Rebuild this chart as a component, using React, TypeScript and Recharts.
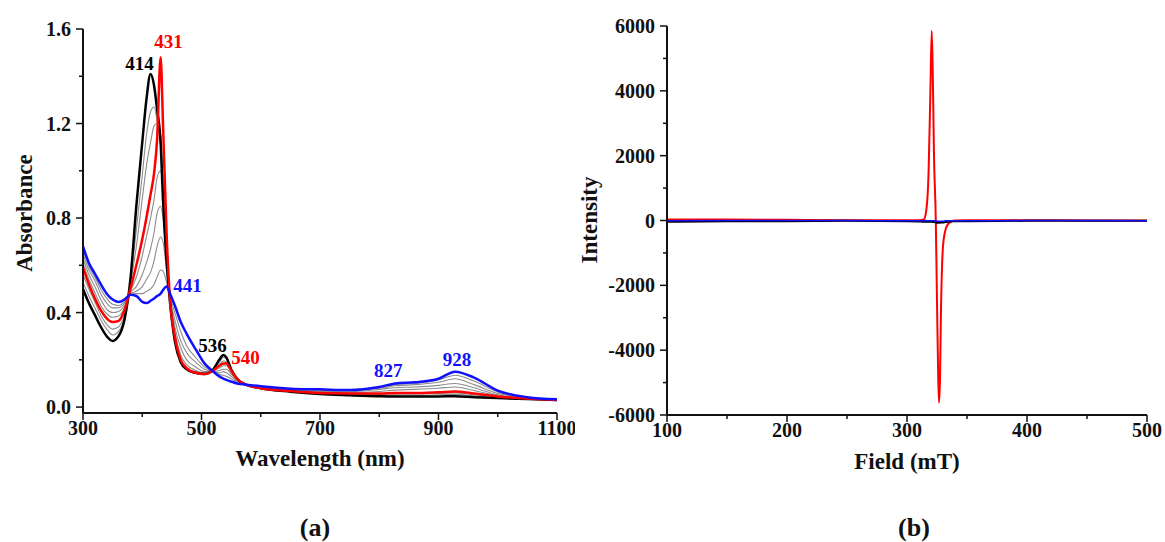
import React from "react"
import { LineChart, Line, XAxis, YAxis, ReferenceDot } from "recharts"

// UV-vis (a)
const wavelengths = [300, 310, 320, 330, 340, 350, 360, 370, 380, 390, 400, 407, 414, 420, 425, 431, 435, 441, 447, 455, 465, 475, 490, 505, 520, 530, 537, 542, 550, 560, 575, 600, 650, 700, 750, 800, 827, 860, 900, 928, 960, 1000, 1050, 1100]
const absBlack = [0.5, 0.44, 0.39, 0.34, 0.3, 0.28, 0.3, 0.37, 0.54, 0.85, 1.12, 1.3, 1.41, 1.36, 1.26, 1.12, 0.88, 0.62, 0.44, 0.28, 0.19, 0.16, 0.145, 0.14, 0.16, 0.2, 0.22, 0.21, 0.16, 0.12, 0.095, 0.08, 0.065, 0.055, 0.05, 0.046, 0.045, 0.045, 0.045, 0.046, 0.042, 0.038, 0.034, 0.03]
const absGray1 = [0.53, 0.47, 0.42, 0.37, 0.33, 0.305, 0.32, 0.38, 0.53, 0.75, 0.98, 1.15, 1.25, 1.27, 1.21, 1.1, 0.92, 0.64, 0.45, 0.29, 0.195, 0.16, 0.145, 0.14, 0.158, 0.19, 0.21, 0.205, 0.16, 0.12, 0.095, 0.08, 0.066, 0.057, 0.052, 0.05, 0.05, 0.05, 0.052, 0.054, 0.048, 0.04, 0.035, 0.03]
const absGray2 = [0.56, 0.5, 0.445, 0.39, 0.35, 0.33, 0.34, 0.39, 0.52, 0.68, 0.88, 1.02, 1.12, 1.19, 1.2, 1.15, 0.98, 0.66, 0.45, 0.29, 0.2, 0.165, 0.145, 0.14, 0.157, 0.18, 0.195, 0.19, 0.158, 0.12, 0.095, 0.08, 0.067, 0.058, 0.055, 0.054, 0.055, 0.056, 0.058, 0.06, 0.052, 0.042, 0.035, 0.03]
const absRed = [0.59, 0.52, 0.46, 0.41, 0.375, 0.36, 0.365, 0.41, 0.5, 0.6, 0.71, 0.8, 0.9, 0.99, 1.13, 1.48, 1.2, 0.74, 0.45, 0.3, 0.2, 0.165, 0.145, 0.14, 0.155, 0.175, 0.185, 0.185, 0.155, 0.12, 0.095, 0.08, 0.068, 0.06, 0.058, 0.058, 0.06, 0.06, 0.063, 0.066, 0.058, 0.045, 0.036, 0.03]
const absGray3 = [0.61, 0.54, 0.485, 0.43, 0.395, 0.38, 0.385, 0.42, 0.49, 0.55, 0.64, 0.72, 0.8, 0.88, 0.97, 1.0, 0.92, 0.68, 0.46, 0.32, 0.22, 0.18, 0.155, 0.145, 0.155, 0.165, 0.175, 0.175, 0.15, 0.118, 0.095, 0.082, 0.07, 0.063, 0.062, 0.066, 0.072, 0.075, 0.08, 0.085, 0.07, 0.048, 0.037, 0.031]
const absGray4 = [0.63, 0.56, 0.51, 0.455, 0.415, 0.4, 0.405, 0.43, 0.485, 0.51, 0.56, 0.61, 0.67, 0.74, 0.82, 0.85, 0.8, 0.62, 0.46, 0.34, 0.25, 0.2, 0.17, 0.15, 0.15, 0.155, 0.16, 0.16, 0.14, 0.115, 0.094, 0.083, 0.072, 0.066, 0.066, 0.075, 0.082, 0.085, 0.092, 0.1, 0.082, 0.052, 0.038, 0.031]
const absGray5 = [0.65, 0.58, 0.535, 0.48, 0.44, 0.42, 0.42, 0.44, 0.48, 0.49, 0.51, 0.54, 0.57, 0.62, 0.68, 0.72, 0.7, 0.58, 0.46, 0.37, 0.28, 0.23, 0.19, 0.16, 0.15, 0.145, 0.15, 0.145, 0.13, 0.11, 0.093, 0.084, 0.074, 0.07, 0.068, 0.08, 0.09, 0.095, 0.105, 0.12, 0.095, 0.058, 0.039, 0.032]
const absGray6 = [0.665, 0.595, 0.55, 0.5, 0.46, 0.435, 0.43, 0.445, 0.478, 0.48, 0.48, 0.49, 0.5, 0.52, 0.55, 0.58, 0.575, 0.53, 0.47, 0.4, 0.32, 0.26, 0.21, 0.17, 0.15, 0.138, 0.135, 0.13, 0.12, 0.105, 0.094, 0.086, 0.076, 0.072, 0.07, 0.083, 0.095, 0.1, 0.115, 0.135, 0.11, 0.064, 0.04, 0.032]
const absBlue = [0.68, 0.61, 0.565, 0.52, 0.48, 0.455, 0.445, 0.455, 0.475, 0.47, 0.445, 0.44, 0.45, 0.46, 0.47, 0.48, 0.495, 0.51, 0.48, 0.43, 0.36, 0.31, 0.245, 0.185, 0.15, 0.13, 0.12, 0.115, 0.108, 0.1, 0.095, 0.088, 0.078, 0.075, 0.072, 0.085, 0.1, 0.105, 0.12, 0.15, 0.125, 0.07, 0.042, 0.033]

const uvXTicks = [300, 400, 500, 600, 700, 800, 900, 1000, 1100]
const uvXMajor = [300, 500, 700, 900, 1100]
const uvYTicks = [0, 0.2, 0.4, 0.6, 0.8, 1.0, 1.2, 1.4, 1.6]
const uvYMajor = [0, 0.4, 0.8, 1.2, 1.6]

// peak labels: [wavelength, absorbance, text, color, dx, dy]
const uvPeaks: [number, number, string, string, number, number][] = [
  [414, 1.41, "414", "#000000", -11, -4],
  [431, 1.48, "431", "#ff0000", 8, -9],
  [441, 0.51, "441", "#1010ff", 21, 5],
  [537, 0.22, "536", "#000000", -11, -3],
  [542, 0.185, "540", "#ff0000", 19, 1],
  [827, 0.1, "827", "#1010ff", -7, -6],
  [928, 0.15, "928", "#1010ff", 2, -6],
]

// EPR (b)
const fieldMT = [100, 150, 200, 250, 300, 310, 314, 316, 318, 319.5, 320.6, 321.5, 322.5, 324, 325, 326, 326.7, 327.5, 328.3, 330, 332, 334, 337, 340, 350, 400, 450, 500]
const eprRed = [30, 30, 20, 10, 10, 5, 30, 300, 1500, 4000, 5850, 4500, 2000, 0, -2500, -4800, -5620, -4900, -2840, -800, -300, -120, -30, 0, 5, 10, 0, 0]
const eprBlack = [-40, -20, -20, -10, -20, -30, -40, -40, -40, -40, -40, -50, -50, -60, -70, -70, -70, -70, -60, -60, -50, -40, -30, -20, -20, -10, -10, -10]
const eprBlue = [-10, 0, 0, 0, -10, -10, -10, -10, -10, -10, -10, -10, -10, -10, -20, -20, -20, -20, -20, -20, -10, -10, -10, -10, -10, 0, 0, -10]

const eprXTicks = [100, 150, 200, 250, 300, 350, 400, 450, 500]
const eprXMajor = [100, 200, 300, 400, 500]
const eprYTicks = [-6000, -5000, -4000, -3000, -2000, -1000, 0, 1000, 2000, 3000, 4000, 5000, 6000]
const eprYMajor = [-6000, -4000, -2000, 0, 2000, 4000, 6000]

const uvRows = wavelengths.map((w, i) => ({
  w,
  black: absBlack[i],
  g1: absGray1[i],
  g2: absGray2[i],
  red: absRed[i],
  g3: absGray3[i],
  g4: absGray4[i],
  g5: absGray5[i],
  g6: absGray6[i],
  blue: absBlue[i],
}))

const eprRows = fieldMT.map((f, i) => ({ f, red: eprRed[i], black: eprBlack[i], blue: eprBlue[i] }))

const SERIF = '"Liberation Serif", "Times New Roman", serif'

function makeXTick(majors: number[], fmt: (v: number) => string) {
  return (props: any) => {
    const { x, y, payload } = props
    const major = majors.includes(payload.value)
    return (
      <g>
        <line x1={x} y1={y} x2={x} y2={y + (major ? 7 : 4)} stroke="#111" strokeWidth={1.5} />
        {major && (
          <text x={x} y={y + 22} textAnchor="middle" fontFamily={SERIF} fontWeight="bold" fontSize={20} fill="#111">
            {fmt(payload.value)}
          </text>
        )}
      </g>
    )
  }
}

function makeYTick(majors: number[], fmt: (v: number) => string) {
  return (props: any) => {
    const { x, y, payload } = props
    const major = majors.some((m) => Math.abs(m - payload.value) < 1e-9)
    return (
      <g>
        <line x1={x} y1={y} x2={x - (major ? 7 : 4)} y2={y} stroke="#111" strokeWidth={1.5} />
        {major && (
          <text x={x - 12} y={y + 7} textAnchor="end" fontFamily={SERIF} fontWeight="bold" fontSize={20} fill="#111">
            {fmt(payload.value)}
          </text>
        )}
      </g>
    )
  }
}

const PeakText = ({ viewBox, text, color, dx, dy }: any) => {
  const cx = viewBox.x + (viewBox.width || 0) / 2
  const cy = viewBox.y + (viewBox.height || 0) / 2
  return (
    <text x={cx + dx} y={cy + dy} textAnchor="middle" fontFamily={SERIF} fontWeight="bold" fontSize={19} fill={color}>
      {text}
    </text>
  )
}

const Title = ({ x, y, text, size, rotate }: { x: number; y: number; text: string; size: number; rotate?: boolean }) => (
  <div
    style={{
      position: "absolute",
      left: x,
      top: y,
      transform: `translate(-50%, -50%)${rotate ? " rotate(-90deg)" : ""}`,
      fontFamily: SERIF,
      fontWeight: "bold",
      fontSize: size,
      whiteSpace: "nowrap",
      lineHeight: 1,
      color: "#111",
    }}
  >
    {text}
  </div>
)

export default function App() {
  const axisLine = { stroke: "#111", strokeWidth: 2 }
  return (
    <div style={{ position: "absolute", left: 0, top: 0, width: 1165, height: 542, background: "#fff", overflow: "hidden" }}>
      <div style={{ position: "absolute", left: 0, top: 0 }}>
        <LineChart width={575} height={480} data={uvRows} margin={{ top: 29, right: 18, left: 0, bottom: 0 }}>
          <XAxis
            dataKey="w"
            type="number"
            domain={[300, 1100]}
            ticks={uvXTicks}
            interval={0}
            height={67}
            tickSize={0}
            tickMargin={0}
            tickLine={false}
            axisLine={axisLine}
            tick={makeXTick(uvXMajor, (v) => String(v))}
          />
          <YAxis
            type="number"
            domain={[-0.025, 1.6]}
            ticks={uvYTicks}
            interval={0}
            width={83}
            tickSize={0}
            tickMargin={0}
            tickLine={false}
            axisLine={axisLine}
            allowDataOverflow
            tick={makeYTick(uvYMajor, (v) => v.toFixed(1))}
          />
          {["g1", "g2", "g3", "g4", "g5", "g6"].map((k) => (
            <Line key={k} dataKey={k} type="monotone" stroke="#8c8c8c" strokeWidth={1.1} dot={false} isAnimationActive={false} />
          ))}
          <Line dataKey="black" type="monotone" stroke="#000000" strokeWidth={2.5} dot={false} isAnimationActive={false} />
          <Line dataKey="red" type="monotone" stroke="#ff0000" strokeWidth={2.5} dot={false} isAnimationActive={false} />
          <Line dataKey="blue" type="monotone" stroke="#1010ff" strokeWidth={2.5} dot={false} isAnimationActive={false} />
          {uvPeaks.map(([w, a, t, c, dx, dy]) => (
            <ReferenceDot
              key={t}
              x={w}
              y={a}
              r={0}
              fill="none"
              stroke="none"
              label={<PeakText text={t} color={c} dx={dx} dy={dy} />}
            />
          ))}
        </LineChart>
      </div>
      <div style={{ position: "absolute", left: 590, top: 0 }}>
        <LineChart width={575} height={480} data={eprRows} margin={{ top: 26, right: 18, left: 0, bottom: 0 }}>
          <XAxis
            dataKey="f"
            type="number"
            domain={[100, 500]}
            ticks={eprXTicks}
            interval={0}
            height={65}
            tickSize={0}
            tickMargin={0}
            tickLine={false}
            axisLine={axisLine}
            tick={makeXTick(eprXMajor, (v) => String(v))}
          />
          <YAxis
            type="number"
            domain={[-6000, 6000]}
            ticks={eprYTicks}
            interval={0}
            width={77}
            tickSize={0}
            tickMargin={0}
            tickLine={false}
            axisLine={axisLine}
            tick={makeYTick(eprYMajor, (v) => String(v))}
          />
          <Line dataKey="red" type="monotone" stroke="#ff0000" strokeWidth={2} dot={false} isAnimationActive={false} />
          <Line dataKey="black" type="monotone" stroke="#000000" strokeWidth={2} dot={false} isAnimationActive={false} />
          <Line dataKey="blue" type="monotone" stroke="#1010ff" strokeWidth={1.5} dot={false} isAnimationActive={false} />
        </LineChart>
      </div>
      <Title x={24} y={213} text="Absorbance" size={23} rotate />
      <Title x={320} y={458} text="Wavelength (nm)" size={23} />
      <Title x={589} y={220} text="Intensity" size={23} rotate />
      <Title x={907} y={461} text="Field (mT)" size={23} />
      <Title x={315} y={528} text="(a)" size={26} />
      <Title x={914} y={528} text="(b)" size={26} />
    </div>
  )
}
